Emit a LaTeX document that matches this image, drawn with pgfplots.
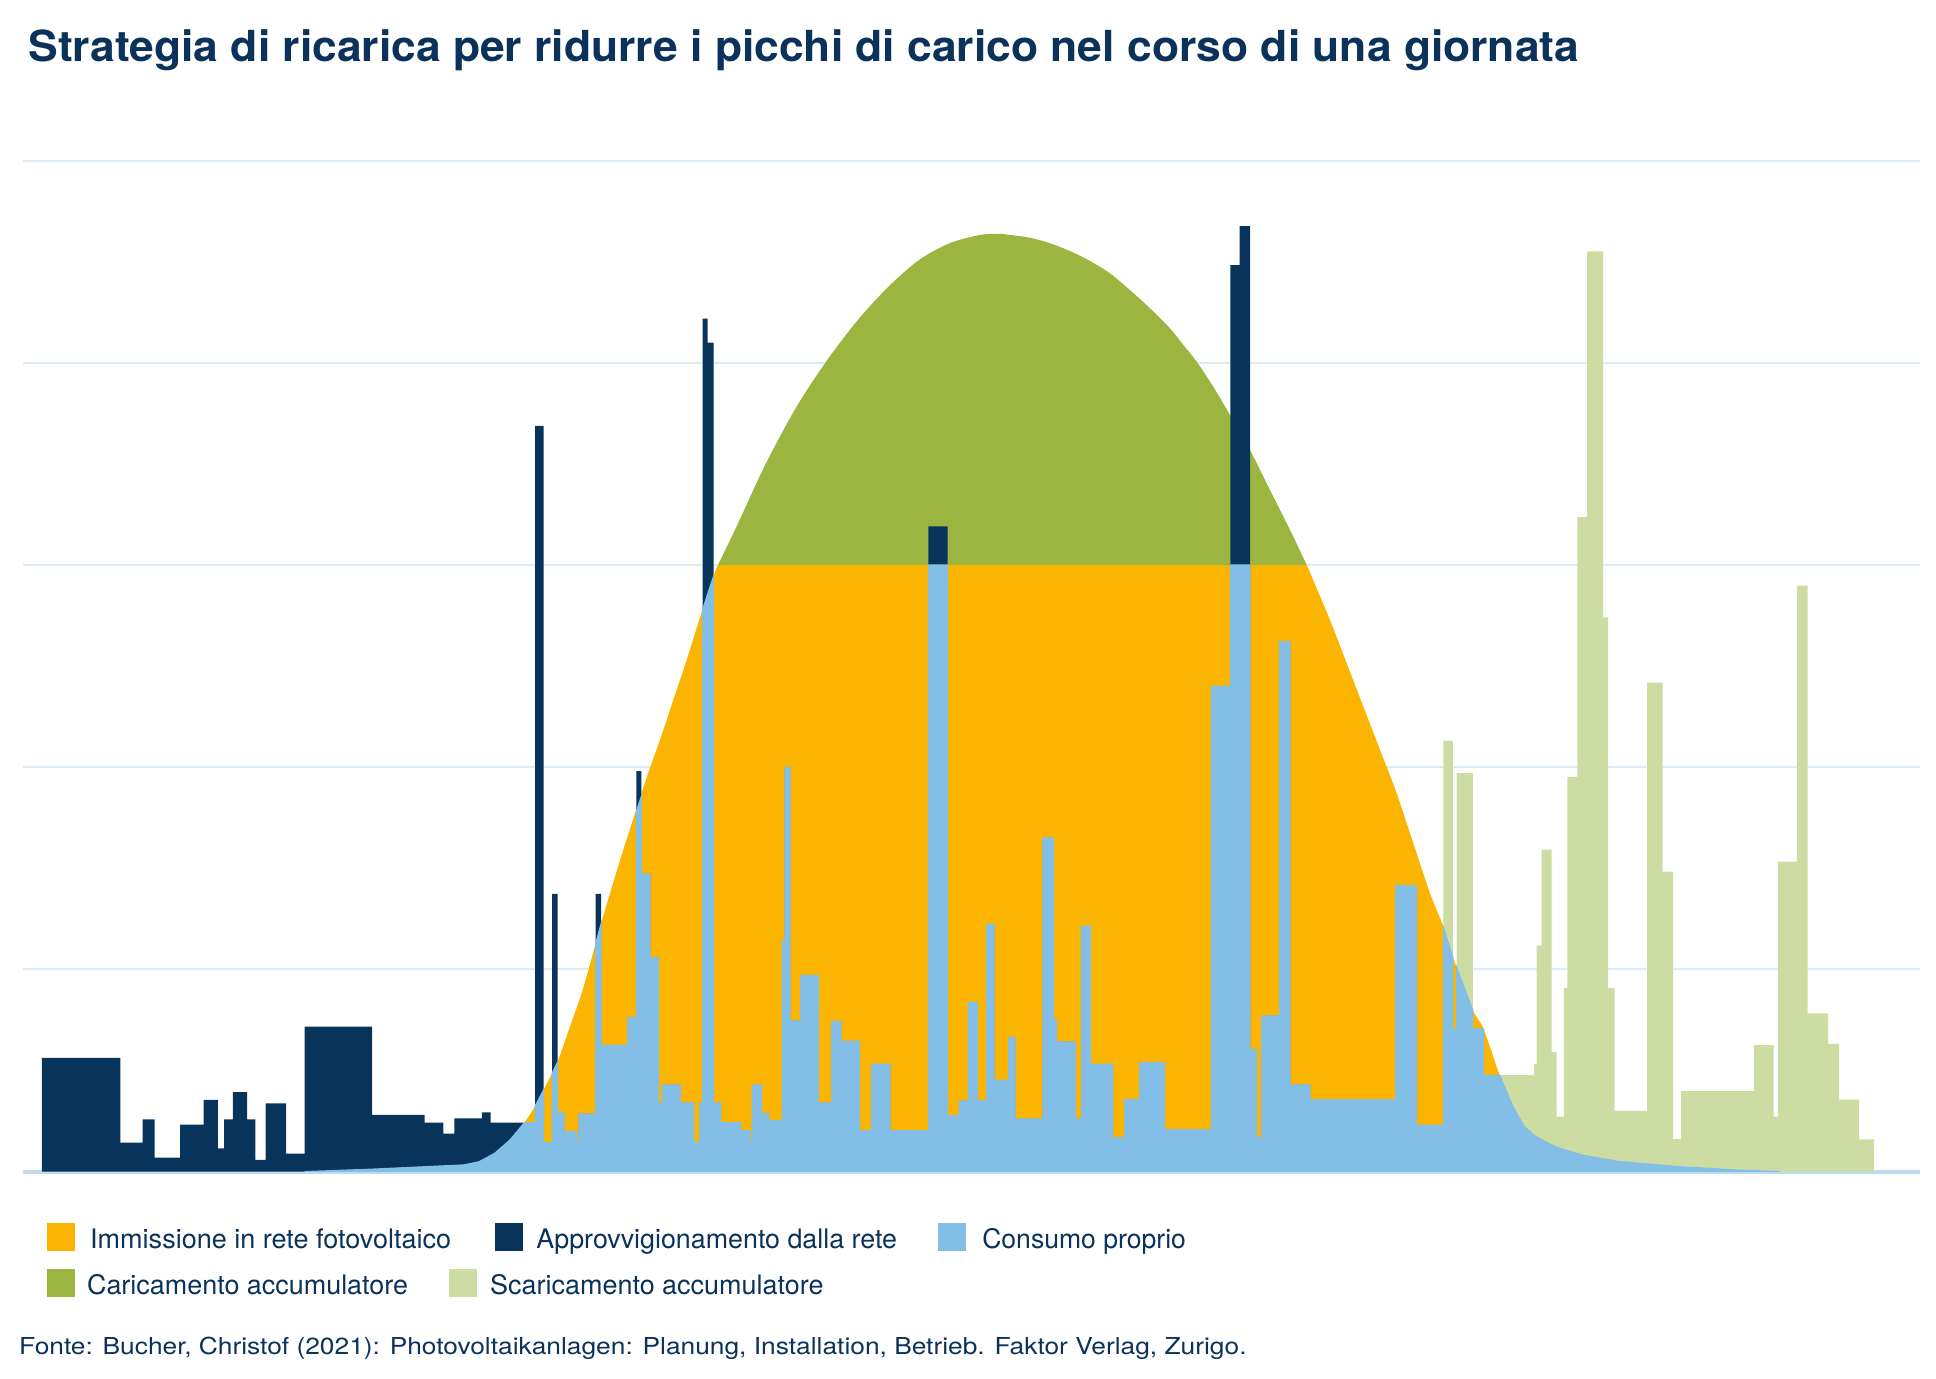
\documentclass[border=0pt]{standalone}
\usepackage{pgfplots}
\pgfplotsset{compat=1.18}
\usepackage{fontspec}
\setmainfont{TeX Gyre Heros}
\usepackage{graphicx}
\definecolor{cNavy}{HTML}{08345C}
\definecolor{cOrange}{HTML}{FBB500}
\definecolor{cLblue}{HTML}{82BEE5}
\definecolor{cGreen}{HTML}{9CB540}
\definecolor{cLgreen}{HTML}{CDDCA2}
\definecolor{cGrid}{HTML}{DCEBF7}
\definecolor{cBase}{HTML}{BCDCF2}
\definecolor{cText}{HTML}{0B325A}
\begin{document}
\begin{tikzpicture}
\path[use as bounding box] (0,0) rectangle (580.8pt,413.4pt);
\begin{axis}[
  at={(6.9pt,61.95pt)}, anchor=south west,
  scale only axis, width=569.1pt, height=303.3pt,
  xmin=23, xmax=1920, ymin=0, ymax=5,
  axis line style={draw=none},
  tick style={draw=none},
  xtick=\empty,
  ytick={1,2,3,4,5}, yticklabels={},
  ymajorgrids,
  major grid style={cGrid, line width=0.6pt},
  extra y ticks={0}, extra y tick labels={},
  extra y tick style={grid=major, major grid style={cBase, line width=1.2pt}},
]
% PV production above the cap: battery charging
\addplot[fill=cGreen, draw=none, smooth] coordinates {
(718,3.0) (733.3,3.156) (745,3.280) (765.9,3.502) (796.5,3.782) (827.2,4.013) (857.8,4.211) (888.4,4.376) (919,4.508) (949.6,4.591) (980.2,4.632) (999.4,4.637) (1010,4.632) (1030,4.618) (1050,4.591) (1070,4.552) (1090,4.503) (1110,4.442) (1130,4.359) (1150,4.269) (1170,4.170) (1183.3,4.088) (1196.7,4.005) (1213.3,3.881) (1230,3.741) (1250,3.568) (1270,3.370) (1290,3.173) (1306.7,3.0)
} \closedcycle;
% PV feed-in: rising flank, capped part, falling flank
\addplot[fill=cOrange, draw=none, smooth] coordinates {
(304.7,0) (372.1,0.012) (463.9,0.033) (479.2,0.049) (494.5,0.090) (509.9,0.156) (524.4,0.242) (535.1,0.324) (552,0.485) (557.7,0.543) (571.1,0.732) (582.6,0.896) (595.6,1.127) (601,1.225) (620,1.538) (640,1.848) (649.3,1.986) (660,2.134) (673.3,2.332) (686.7,2.530) (703.3,2.793) (713.3,2.942) (718,3.0)
} \closedcycle;
\addplot[fill=cOrange, draw=none] coordinates {(717.5,3) (1307.2,3)} \closedcycle;
\addplot[fill=cOrange, draw=none, smooth] coordinates {
(1306.7,3.0) (1330,2.727) (1346.7,2.513) (1363.3,2.299) (1380,2.085) (1396.7,1.870) (1413.3,1.623) (1430,1.376) (1443.3,1.211) (1453.3,1.054) (1472.8,0.798) (1483.5,0.706) (1499.6,0.477) (1513,0.321) (1524.4,0.222) (1535.9,0.173) (1555,0.123) (1581.8,0.082) (1620.1,0.049) (1677.5,0.025) (1734.9,0.008) (1780,0)
} \closedcycle;
% grid supply (load)
\addplot[fill=cNavy, draw=none, const plot] coordinates {
(41.8,0.5625) (120.3,0.143) (142.5,0.258) (154.7,0.069) (180,0.232) (203.7,0.354) (217.9,0.115) (224,0.258) (232.8,0.393) (247,0.258) (255.4,0.058) (265.7,0.337) (286,0.089) (304.7,0.717) (372.1,0.280) (424.5,0.242) (443.3,0.1875) (454.4,0.263) (481.9,0.293) (490.7,0.242) (535.1,3.687) (543.6,0.143) (552,1.373) (557.7,0.293) (564.2,0.197) (576.8,0.143) (578.8,0.285) (595.6,1.373) (601,0.625) (627.6,0.7615) (636.4,1.98) (641.3,1.472) (650.1,1.058) (658.6,0.340) (662.4,0.428) (680.4,0.340) (693.8,0.143) (699.5,0.340) (702.6,4.218) (707.5,4.099) (713.7,0.340) (720.9,0.242) (740.8,0.202) (750,0.143) (752,0.428) (761.5,0.288) (768.8,0.252) (782.2,1.143) (784.8,2.0) (790.2,0.745) (800.5,0.970) (818.5,0.340) (831.5,0.743) (841.1,0.645) (859.5,0.202) (871.7,0.531) (890.1,0.202) (928.4,3.19) (947.5,0.276) (959,0.349) (968.2,0.837) (977.7,0.350) (986.5,1.224) (994.2,0.452) (1008.7,0.663) (1015.2,0.260) (1042.8,1.650) (1053.5,0.753) (1056.6,0.641) (1075.3,0.260) (1081.4,1.214) (1090.6,0.531) (1112.8,0.168) (1124.7,0.357) (1139.6,0.539) (1164.5,0.207) (1211.4,2.40) (1230.4,4.483) (1239.6,4.675) (1250,0.604) (1256.5,0.168) (1261.5,0.770) (1279.5,2.62) (1290.2,0.428) (1310.1,0.355) (1395.5,1.414) (1416.5,0.230) (1443.3,0.230)
} \closedcycle;
% battery discharge
\addplot[fill=cLgreen, draw=none, const plot] coordinates {
(1443.3,2.13) (1452.9,0.706) (1456.7,1.97) (1472.8,0.706) (1483.5,0.477) (1534,0.531) (1536.7,1.117) (1541.7,1.592) (1551.6,0.590) (1556.6,0.272) (1563.9,0.908) (1567.4,1.952) (1577.3,3.236) (1587.2,4.551) (1603.2,2.741) (1608.1,0.907) (1614.5,0.300) (1647,2.418) (1662.7,1.483) (1673,0.160) (1681.2,0.397) (1754,0.625) (1773.6,0.272) (1777.9,1.532) (1797,2.897) (1807.5,0.782) (1828,0.631) (1839,0.355) (1858.8,0.159) (1874.2,0.159)
} \closedcycle;
% self consumption
\addplot[fill=cLblue, draw=cLblue, line width=0.3pt] coordinates {
(304.7,0) (372.1,0.012) (463.9,0.033) (479.2,0.049) (494.5,0.090) (509.9,0.156) (524.4,0.242) (535.1,0.242) (535.1,0.324) (543.6,0.405) (543.6,0.143) (552,0.143) (552,0.485) (557.7,0.543) (557.7,0.293) (564.2,0.293) (564.2,0.197) (576.8,0.197) (576.8,0.143) (578.8,0.143) (578.8,0.285) (595.6,0.285) (595.6,1.127) (601,1.225) (601,0.625) (627.6,0.625) (627.6,0.7615) (636.4,0.7615) (636.4,1.783) (641.3,1.856) (641.3,1.472) (650.1,1.472) (650.1,1.058) (658.6,1.058) (658.6,0.340) (662.4,0.340) (662.4,0.428) (680.4,0.428) (680.4,0.340) (693.8,0.340) (693.8,0.143) (699.5,0.143) (699.5,0.340) (702.6,0.340) (702.6,2.78) (707.5,2.855) (713.7,2.947) (713.7,0.340) (720.9,0.340) (720.9,0.242) (740.8,0.242) (740.8,0.202) (750,0.202) (750,0.143) (752,0.143) (752,0.428) (761.5,0.428) (761.5,0.288) (768.8,0.288) (768.8,0.252) (782.2,0.252) (782.2,1.143) (784.8,1.143) (784.8,2.0) (790.2,2.0) (790.2,0.745) (800.5,0.745) (800.5,0.970) (818.5,0.970) (818.5,0.340) (831.5,0.340) (831.5,0.743) (841.1,0.743) (841.1,0.645) (859.5,0.645) (859.5,0.202) (871.7,0.202) (871.7,0.531) (890.1,0.531) (890.1,0.202) (928.4,0.202) (928.4,3) (947.5,3) (947.5,0.276) (959,0.276) (959,0.349) (968.2,0.349) (968.2,0.837) (977.7,0.837) (977.7,0.350) (986.5,0.350) (986.5,1.224) (994.2,1.224) (994.2,0.452) (1008.7,0.452) (1008.7,0.663) (1015.2,0.663) (1015.2,0.260) (1042.8,0.260) (1042.8,1.650) (1053.5,1.650) (1053.5,0.753) (1056.6,0.753) (1056.6,0.641) (1075.3,0.641) (1075.3,0.260) (1081.4,0.260) (1081.4,1.214) (1090.6,1.214) (1090.6,0.531) (1112.8,0.531) (1112.8,0.168) (1124.7,0.168) (1124.7,0.357) (1139.6,0.357) (1139.6,0.539) (1164.5,0.539) (1164.5,0.207) (1211.4,0.207) (1211.4,2.40) (1230.4,2.40) (1230.4,3) (1250,3) (1250,0.604) (1256.5,0.604) (1256.5,0.168) (1261.5,0.168) (1261.5,0.770) (1279.5,0.770) (1279.5,2.62) (1290.2,2.62) (1290.2,0.428) (1310.1,0.428) (1310.1,0.355) (1395.5,0.355) (1395.5,1.414) (1416.5,1.414) (1416.5,0.230) (1443.3,0.230) (1443.3,1.211) (1452.9,1.060) (1452.9,0.706) (1456.7,0.706) (1456.7,1.009) (1472.8,0.798) (1472.8,0.706) (1483.5,0.706) (1483.5,0.477) (1499.6,0.477) (1513,0.321) (1524.4,0.222) (1535.9,0.173) (1555,0.123) (1581.8,0.082) (1620.1,0.049) (1677.5,0.025) (1734.9,0.008) (1780,0)
} \closedcycle;
\end{axis}
% title
\node[anchor=base west, inner sep=0, text=cText, font=\fontsize{12.83pt}{15pt}\selectfont\bfseries] at (8.34pt,394.95pt)
  {\resizebox{465.3pt}{\height}{Strategia di ricarica per ridurre i picchi di carico nel corso di una giornata}};
% legend
\begin{scope}[every node/.style={anchor=base west, inner sep=0, text=cText, font=\fontsize{8.07pt}{10pt}\selectfont}]
\fill[cOrange] (14.07pt,38.1pt) rectangle (22.59pt,46.5pt);
\node at (26.85pt,39pt) {\resizebox{108.3pt}{\height}{Immissione in rete fotovoltaico}};
\fill[cNavy] (148.5pt,38.1pt) rectangle (156.87pt,46.5pt);
\node at (160.74pt,39pt) {\resizebox{108.15pt}{\height}{Approvvigionamento dalla rete}};
\fill[cLblue] (281.4pt,38.1pt) rectangle (289.8pt,46.5pt);
\node at (294.48pt,39pt) {\resizebox{61.1pt}{\height}{Consumo proprio}};
\fill[cGreen] (14.07pt,24.39pt) rectangle (22.59pt,32.7pt);
\node at (25.92pt,25.2pt) {\resizebox{96.3pt}{\height}{Caricamento accumulatore}};
\fill[cLgreen] (134.64pt,24.39pt) rectangle (142.98pt,32.7pt);
\node at (146.85pt,25.2pt) {\resizebox{100pt}{\height}{Scaricamento accumulatore}};
\end{scope}
% source
\node[anchor=base west, inner sep=0, text=cText, font=\fontsize{7pt}{9pt}\selectfont] at (5.55pt,6.99pt)
  {\resizebox{368.2pt}{\height}{Fonte: Bucher, Christof (2021): Photovoltaikanlagen: Planung, Installation, Betrieb. Faktor Verlag, Zurigo.}};
\end{tikzpicture}
\end{document}
